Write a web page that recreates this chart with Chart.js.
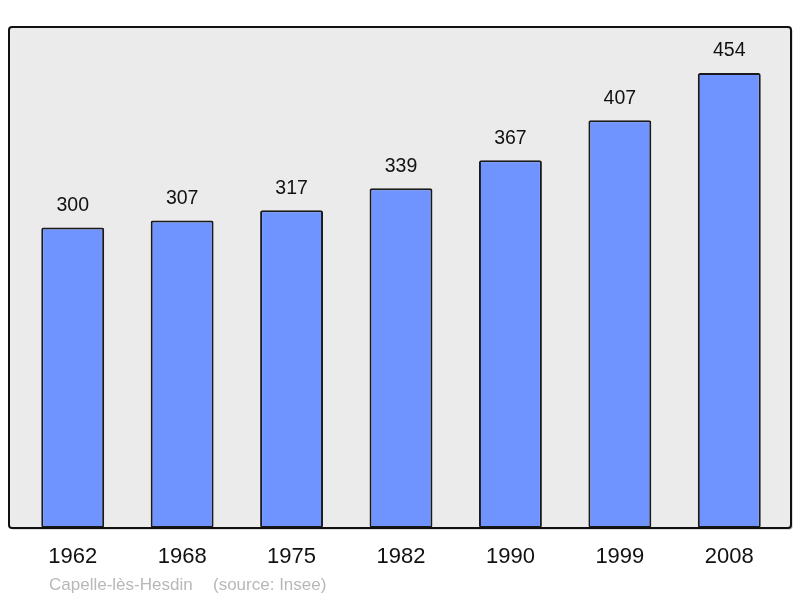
<!DOCTYPE html>
<html>
<head>
<meta charset="utf-8">
<script src="https://cdn.jsdelivr.net/npm/chart.js@4/dist/chart.umd.min.js"></script>
<style>
html,body{margin:0;padding:0;background:#fff;}
#wrap{width:800px;height:598px;}
</style>
</head>
<body>
<div id="wrap"><canvas id="c" width="800" height="598"></canvas></div>
<script>
const years = ["1962","1968","1975","1982","1990","1999","2008"];
const population = [300,307,317,339,367,407,454];
const placeName = "Capelle-lès-Hesdin";
const sourceText = "(source: Insee)";

const framePlugin = {
  id: 'frame',
  beforeDraw(chart) {
    const {ctx, chartArea: a} = chart;
    const l = a.left - 9, r = a.right + 7, t = a.top, b = a.bottom;
    ctx.save();
    ctx.beginPath();
    if (ctx.roundRect) ctx.roundRect(l + 1.5, t + 1.5, r - l, b - t, 3); else ctx.rect(l + 1.5, t + 1.5, r - l, b - t);
    ctx.fillStyle = '#bbbbbb';
    ctx.fill();
    ctx.beginPath();
    if (ctx.roundRect) ctx.roundRect(l, t, r - l, b - t, 3); else ctx.rect(l, t, r - l, b - t);
    ctx.fillStyle = '#ebebeb';
    ctx.fill();
    ctx.restore();
  },
  afterDatasetsDraw(chart) {
    const {ctx, chartArea: a} = chart;
    const l = a.left - 9, r = a.right + 7, t = a.top, b = a.bottom;
    ctx.save();
    ctx.beginPath();
    if (ctx.roundRect) ctx.roundRect(l, t, r - l, b - t, 3); else ctx.rect(l, t, r - l, b - t);
    ctx.lineWidth = 2;
    ctx.strokeStyle = '#111';
    ctx.stroke();
    // value labels
    const meta = chart.getDatasetMeta(0);
    ctx.fillStyle = '#111';
    ctx.font = '19.5px "Liberation Sans", Arial, sans-serif';
    ctx.textAlign = 'center';
    ctx.textBaseline = 'middle';
    meta.data.forEach((bar, i) => {
      ctx.fillText(String(population[i]), bar.x, bar.y - 22);
    });
    // x labels
    const xs = chart.scales.x;
    ctx.font = '22px "Liberation Sans", Arial, sans-serif';
    years.forEach((y, i) => {
      ctx.fillText(y, xs.getPixelForValue(i), a.bottom + 29);
    });
    // source
    ctx.fillStyle = '#b8b8b8';
    ctx.font = '17px "Liberation Sans", Arial, sans-serif';
    ctx.textAlign = 'left';
    ctx.fillText(placeName, 49, a.bottom + 57);
    ctx.fillText(sourceText, 213, a.bottom + 57);
    ctx.restore();
  }
};

new Chart(document.getElementById('c'), {
  type: 'bar',
  data: {
    labels: years,
    datasets: [{
      data: population,
      backgroundColor: '#7094ff',
      borderColor: '#1a1a1a',
      borderWidth: 2,
      borderRadius: 2,
      borderSkipped: false,
      barPercentage: 0.575,
      categoryPercentage: 1
    }]
  },
  options: {
    responsive: false,
    animation: false,
    layout: { padding: { left: 18, right: 16, top: 27, bottom: 70 } },
    plugins: { legend: { display: false }, tooltip: { enabled: false } },
    scales: {
      x: { display: false },
      y: { display: false, min: 0, max: 500 }
    }
  },
  plugins: [framePlugin]
});
</script>
</body>
</html>
